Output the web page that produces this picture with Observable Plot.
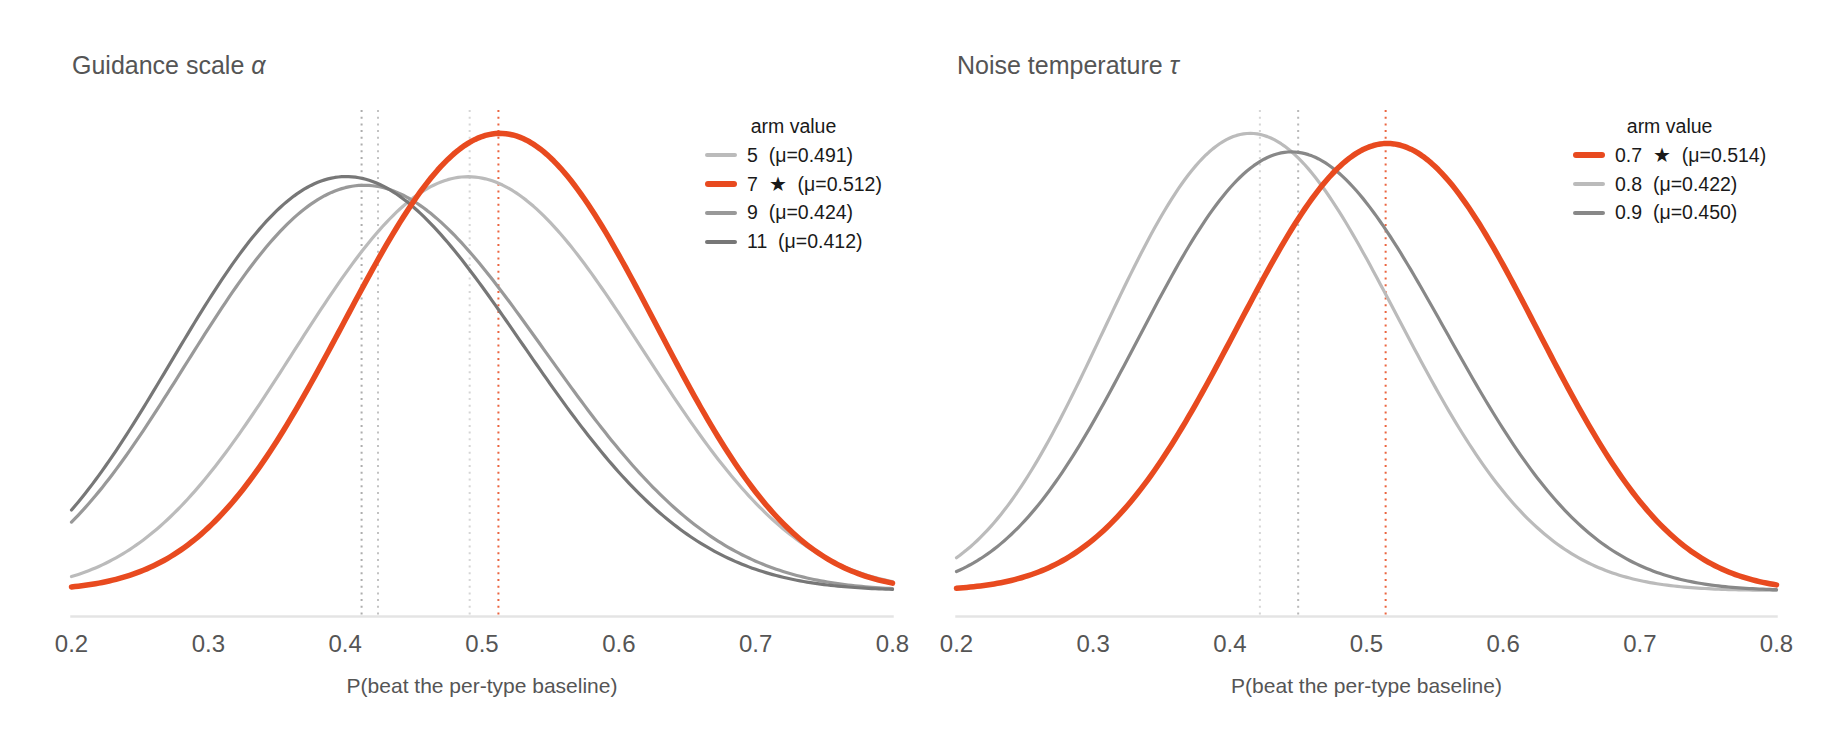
<!DOCTYPE html>
<html>
<head>
<meta charset="utf-8">
<script src="https://cdn.jsdelivr.net/npm/d3@7"></script>
<script src="https://cdn.jsdelivr.net/npm/@observablehq/plot@0.6"></script>
<style>
  html, body { margin: 0; padding: 0; background: #fff; }
  #root { position: relative; width: 1848px; height: 750px; overflow: hidden; font-family: "Liberation Sans", Arial, sans-serif; }
  .title { position: absolute; top: 53px; font-size: 25px; line-height: 24px; color: #555; white-space: pre; }
  .title i { font-style: italic; }
  .panel { position: absolute; top: 90px; }
  .legend { position: absolute; top: 112px; display: inline-block; font-size: 19.5px; color: #1a1a1a; }
  .legend .hdr { text-align: center; line-height: 28.8px; height: 28.8px; }
  .legend .row { display: flex; align-items: center; height: 28.8px; line-height: 28.8px; white-space: pre; }
  .legend .sw { width: 32px; border-radius: 4px; margin-right: 10px; flex: none; }
</style>
</head>
<body>
<div id="root"></div>
<script>
// ---------- data ----------
const xTicks = [0.2, 0.3, 0.4, 0.5, 0.6, 0.7, 0.8];

// Panel 1: Guidance scale α
const guidanceArms = ["5", "7", "9", "11"];
const guidanceMeans = [0.491, 0.512, 0.424, 0.412];
const guidanceConcentration = [18.2, 22.1, 17.0, 17.55]; // a+b of each Beta posterior
const guidanceBest = "7";

// Panel 2: Noise temperature τ
const noiseArms = ["0.7", "0.8", "0.9"];
const noiseMeans = [0.514, 0.422, 0.450];
const noiseConcentration = [23.6, 24.0, 22.5];
const noiseBest = "0.7";

// ---------- styles ----------
const RED = "#e84a1f";
const guidanceColors = ["#bbbbbb", RED, "#999999", "#777777"];
const noiseColors = [RED, "#bbbbbb", "#888888"];

function lgamma(x) {
  const c = [0.99999999999980993, 676.5203681218851, -1259.1392167224028, 771.32342877765313,
    -176.61502916214059, 12.507343278686905, -0.13857109526572012, 9.9843695780195716e-6, 1.5056327351493116e-7];
  if (x < 0.5) return Math.log(Math.PI / Math.sin(Math.PI * x)) - lgamma(1 - x);
  x -= 1;
  let a = c[0];
  const t = x + 7.5;
  for (let i = 1; i < 9; i++) a += c[i] / (x + i);
  return 0.5 * Math.log(2 * Math.PI) + (x + 0.5) * Math.log(t) - t + Math.log(a);
}
function betaPdf(x, a, b) {
  return Math.exp((a - 1) * Math.log(x) + (b - 1) * Math.log(1 - x) + lgamma(a + b) - lgamma(a) - lgamma(b));
}

const root = document.getElementById("root");

function makePanel({arms, means, conc, colors, best, title, symbol, left, marginLeft, marginRight, titleX, legendX}) {
  const grid = d3.range(0, 241).map(i => xTicks[0] + i * (xTicks[xTicks.length - 1] - xTicks[0]) / 240);
  const rows = [];
  arms.forEach((arm, i) => {
    const a = means[i] * conc[i], b = (1 - means[i]) * conc[i];
    grid.forEach(x => rows.push({arm, x, y: betaPdf(x, a, b)}));
  });
  const ymax = d3.max(rows, d => d.y);
  const order = arms.map((a, i) => i).sort((p, q) => (arms[p] === best) - (arms[q] === best));
  const marks = [
    Plot.frame({anchor: "bottom", stroke: "#e4e4e4", strokeWidth: 2.5}),
    ...order.map(i => Plot.ruleX([means[i]], {
      stroke: colors[i], strokeOpacity: arms[i] === best ? 0.85 : 0.6,
      strokeWidth: 2, strokeDasharray: "2,4.7"
    })),
    ...order.map(i => Plot.line(rows.filter(d => d.arm === arms[i]), {
      x: "x", y: "y", stroke: colors[i],
      strokeWidth: arms[i] === best ? 5.5 : 3.2, curve: "linear"
    })),
    Plot.axisX(xTicks, {tickSize: 0, tickPadding: 18, fontSize: 24, fill: "#555", label: null,
      tickFormat: d3.format(".1f")}),
    Plot.text(["P(beat the per-type baseline)"], {frameAnchor: "bottom", lineAnchor: "middle", dy: 70, fontSize: 21, fill: "#555"})
  ];
  const svg = Plot.plot({
    width: 924, height: 640,
    marginTop: 20, marginBottom: 114, marginLeft, marginRight,
    x: {domain: [xTicks[0], xTicks[xTicks.length - 1]]},
    y: {domain: [0, ymax * 1.05], axis: null, insetBottom: 26},
    style: {fontFamily: '"Liberation Sans", Arial, sans-serif', fontSize: "24px", color: "#555", background: "transparent", overflow: "visible"},
    marks
  });
  const wrap = document.createElement("div");
  wrap.className = "panel";
  wrap.style.left = left + "px";
  wrap.appendChild(svg);
  root.appendChild(wrap);

  const t = document.createElement("div");
  t.className = "title";
  t.style.left = titleX + "px";
  t.innerHTML = title + " <i>" + symbol + "</i>";
  root.appendChild(t);

  const lg = document.createElement("div");
  lg.className = "legend";
  lg.style.left = legendX + "px";
  const hdr = document.createElement("div");
  hdr.className = "hdr";
  hdr.textContent = "arm value";
  lg.appendChild(hdr);
  const legendOrder = arms.map((a, i) => i).sort((p, q) => parseFloat(arms[p]) - parseFloat(arms[q]));
  legendOrder.forEach(i => {
    const r = document.createElement("div");
    r.className = "row";
    const sw = document.createElement("span");
    sw.className = "sw";
    const isBest = arms[i] === best;
    sw.style.height = (isBest ? 6.5 : 4) + "px";
    sw.style.background = colors[i];
    r.appendChild(sw);
    const tx = document.createElement("span");
    tx.textContent = arms[i] + (isBest ? "  \u2605  " : "  ") + "(\u03bc=" + means[i].toFixed(3) + ")";
    r.appendChild(tx);
    lg.appendChild(r);
  });
  root.appendChild(lg);
}

makePanel({arms: guidanceArms, means: guidanceMeans, conc: guidanceConcentration, colors: guidanceColors,
  best: guidanceBest, title: "Guidance scale", symbol: "\u03b1", left: 0, marginLeft: 71, marginRight: 32,
  titleX: 72, legendX: 705});
makePanel({arms: noiseArms, means: noiseMeans, conc: noiseConcentration, colors: noiseColors,
  best: noiseBest, title: "Noise temperature", symbol: "\u03c4", left: 924, marginLeft: 32, marginRight: 72,
  titleX: 957, legendX: 1573});
</script>
</body>
</html>
